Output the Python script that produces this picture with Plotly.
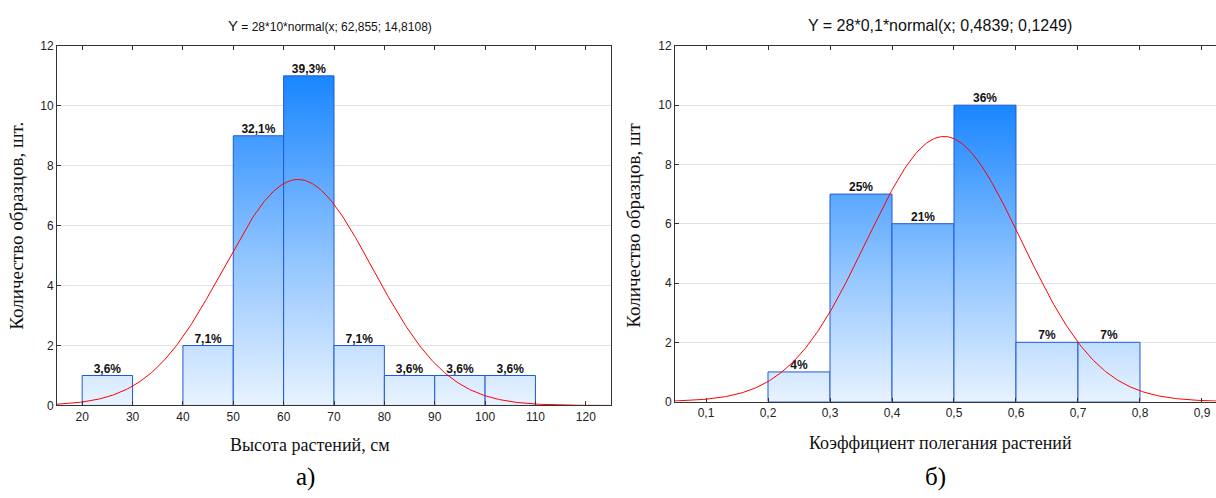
import numpy as np
import plotly.graph_objects as go

# ---------------- data ----------------
# Chart a) plant height
height_edges = [20, 30, 40, 50, 60, 70, 80, 90, 100, 110]
height_counts = [1, 0, 2, 9, 11, 2, 1, 1, 1]
height_labels = ["3,6%", "", "7,1%", "32,1%", "39,3%", "7,1%", "3,6%", "3,6%", "3,6%"]
height_n, height_bin, height_mean, height_sd = 28, 10, 62.855, 14.8108
height_ticks = [20, 30, 40, 50, 60, 70, 80, 90, 100, 110, 120]

# Chart б) lodging coefficient
lodg_edges = [0.2, 0.3, 0.4, 0.5, 0.6, 0.7, 0.8]
lodg_counts = [1, 7, 6, 10, 2, 2]
lodg_labels = ["4%", "25%", "21%", "36%", "7%", "7%"]
lodg_n, lodg_bin, lodg_mean, lodg_sd = 28, 0.1, 0.4839, 0.1249
lodg_ticks = [0.1, 0.2, 0.3, 0.4, 0.5, 0.6, 0.7, 0.8, 0.9]
lodg_ticktext = ["0,1", "0,2", "0,3", "0,4", "0,5", "0,6", "0,7", "0,8", "0,9"]

y_ticks = [0, 2, 4, 6, 8, 10, 12]

# ---------------- figure ----------------
W, H = 1216, 498
fig = go.Figure()

grad = [[0, "#EEF6FF"], [0.45, "#94C6FF"], [1, "#1A86FF"]]


def add_hist(edges, counts, labels, xa, ya):
    top = max(counts)
    for i, c in enumerate(counts):
        if c <= 0:
            continue
        x0, x1 = edges[i], edges[i + 1]
        fig.add_trace(go.Scatter(
            x=[x0, x0, x1, x1, x0], y=[0, c, c, 0, 0],
            mode="lines", fill="toself",
            fillgradient=dict(type="vertical", colorscale=grad, start=0, stop=top),
            line=dict(color="#1F5AD6", width=1),
            xaxis=xa, yaxis=ya, showlegend=False, hoverinfo="skip"))
    cx = [(edges[i] + edges[i + 1]) / 2 for i in range(len(counts))]
    fig.add_trace(go.Scatter(
        x=cx, y=counts, text=[f"<b>{t}</b>" if t else "" for t in labels],
        mode="text", textposition="top center",
        textfont=dict(family="Liberation Sans, Arial", size=12, color="#111"),
        xaxis=xa, yaxis=ya, showlegend=False, hoverinfo="skip"))


def add_curve(n, binw, mean, sd, lo, hi, xa, ya):
    xs = np.linspace(lo, hi, 400)
    ys = n * binw * np.exp(-0.5 * ((xs - mean) / sd) ** 2) / (sd * np.sqrt(2 * np.pi))
    fig.add_trace(go.Scatter(x=xs, y=ys, mode="lines",
                             line=dict(color="#FF0000", width=1),
                             xaxis=xa, yaxis=ya, showlegend=False, hoverinfo="skip"))


add_hist(height_edges, height_counts, height_labels, "x", "y")
add_curve(height_n, height_bin, height_mean, height_sd, 15, 125, "x", "y")
add_hist(lodg_edges, lodg_counts, lodg_labels, "x2", "y2")
add_curve(lodg_n, lodg_bin, lodg_mean, lodg_sd, 0.05, 0.93, "x2", "y2")

tickfont = dict(family="Liberation Sans, Arial", size=12, color="#222")
axis_common = dict(showline=True, linecolor="#333", linewidth=1, ticks="inside",
                   ticklen=4, tickcolor="#333", tickfont=tickfont, zeroline=False)

fig.update_layout(
    width=W, height=H, margin=dict(l=0, r=0, t=0, b=0),
    paper_bgcolor="white", plot_bgcolor="white",
    xaxis=dict(domain=[57 / W, 611 / W], range=[15, 125], tickvals=height_ticks,
               anchor="y", mirror="allticks", showgrid=False, **axis_common),
    yaxis=dict(domain=[(H - 410) / H, (H - 40) / H], range=[0, 12], tickvals=y_ticks,
               anchor="x", mirror=True, showgrid=True, gridcolor="#E2E2E2",
               **axis_common),
    xaxis2=dict(domain=[675 / W, 1.0], range=[0.05, 0.9226], tickvals=lodg_ticks,
                ticktext=lodg_ticktext, anchor="y2", mirror="allticks", showgrid=False,
                **axis_common),
    yaxis2=dict(domain=[(H - 406) / H, (H - 40) / H], range=[0, 12], tickvals=y_ticks,
                anchor="x2", mirror=False, showgrid=True, gridcolor="#E2E2E2",
                **axis_common),
)

serif = "Liberation Serif, Times New Roman, serif"
sans = "Liberation Sans, Arial, sans-serif"
ann = [
    dict(x=330 / W, y=(H - 19) / H,
         text="<span style='font-size:15px'>Y</span> = 28*10*normal(x; 62,855; 14,8108)",
         font=dict(family=sans, size=12, color="#111")),
    dict(x=940 / W, y=(H - 19) / H,
         text="Y = 28*0,1*normal(x; 0,4839; 0,1249)",
         font=dict(family=sans, size=16, color="#111")),
    dict(x=17 / W, y=(H - 225) / H, text="Количество образцов, шт.", textangle=-90,
         font=dict(family=serif, size=19, color="#111")),
    dict(x=634 / W, y=(H - 225) / H, text="Количество образцов, шт", textangle=-90,
         font=dict(family=serif, size=19, color="#111")),
    dict(x=310 / W, y=(H - 451) / H, text="Высота растений, см",
         font=dict(family=serif, size=18, color="#111")),
    dict(x=940 / W, y=(H - 449) / H, text="Коэффициент полегания растений",
         font=dict(family=serif, size=18, color="#111")),
    dict(x=305 / W, y=(H - 484) / H, text="а)",
         font=dict(family=serif, size=25, color="#000")),
    dict(x=935 / W, y=(H - 484) / H, text="б)",
         font=dict(family=serif, size=25, color="#000")),
]
for a in ann:
    a.update(xref="paper", yref="paper", showarrow=False, xanchor="center", yanchor="middle")
fig.update_layout(annotations=ann)

post = ("document.documentElement.style.margin='0';"
        "document.body.style.margin='0';document.body.style.overflow='hidden';"
        "var d=document.getElementById('{plot_id}');"
        "d.style.position='fixed';d.style.top='0px';d.style.left='0px';")
fig.write_html("out.html", post_script=post, config={"displayModeBar": False})
